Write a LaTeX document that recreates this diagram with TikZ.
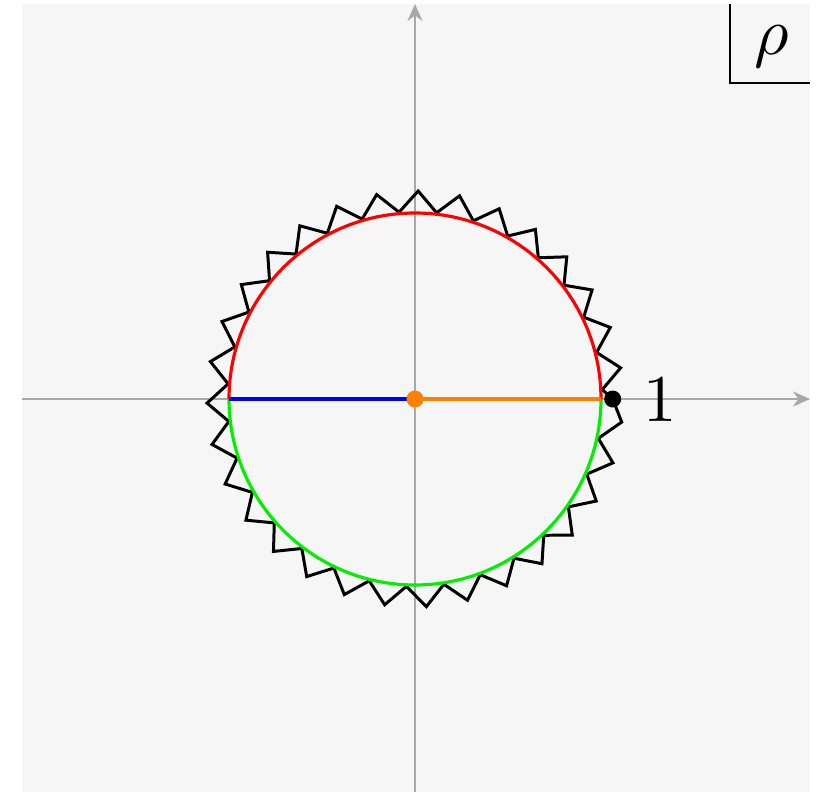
\documentclass[tikz,border=0pt]{standalone}
\usetikzlibrary{arrows.meta}
\definecolor{bg}{RGB}{246,246,246}
\definecolor{axisgray}{RGB}{168,168,168}
\definecolor{myorange}{RGB}{255,128,0}
\definecolor{mygreen}{RGB}{0,240,0}
\tikzset{
  axisline/.style={draw=axisgray, line width=1.5pt, -{Stealth[length=0.34cm,width=0.30cm]}},
  halfcircle/.style={line width=1.8pt},
  zig/.style={draw=black, line width=1.7pt, line join=miter},
  dotnode/.style={circle, inner sep=0pt, minimum size=0.34cm},
  bigtext/.style={scale=3.8, inner sep=0pt}
}
\begin{document}
\begin{tikzpicture}[x=0.02cm,y=0.02cm]
\useasboundingbox (-415,-393) rectangle (413,399);
\fill[bg] (-393,-393) rectangle (395,395);
\coordinate (O) at (0,0);
\coordinate (xs) at (-393,0);
\coordinate (xe) at (395,0);
\coordinate (ys) at (0,-393);
\coordinate (ye) at (0,395);
\draw[axisline] (xs) -- (xe);
\draw[axisline] (ys) -- (ye);
% zigzag circle
\coordinate (Z0) at (197.7,0);
\draw[zig] (Z0) \foreach \k in {0,...,61} {
   -- ({(0.25+0.5*\k)*11.5}:{ifthenelse(mod(\k,2)==0,187.5,208)}) } -- cycle;
% coloured circle halves
\draw[halfcircle, red] (186,0) arc[start angle=0, end angle=180, radius=186];
\draw[halfcircle, mygreen] (-186,0) arc[start angle=180, end angle=360, radius=186];
\coordinate (L) at (-186,0);
\coordinate (R) at (186,0);
\draw[halfcircle, blue] (L) -- (O);
\draw[halfcircle, myorange] (O) -- (R);
\node[dotnode, fill=myorange] (c) at (O) {};
\node[dotnode, fill=black] (one) at (Z0) {};
\node[bigtext] (lab) at (245,0) {1};
% rho box
\coordinate (b1) at (315,395);
\coordinate (b2) at (315,316);
\coordinate (b3) at (395,316);
\draw[line width=1.6pt] (b1) -- (b2) -- (b3);
\node[bigtext] (rho) at (357,352) {$\rho$};
\end{tikzpicture}
\end{document}
